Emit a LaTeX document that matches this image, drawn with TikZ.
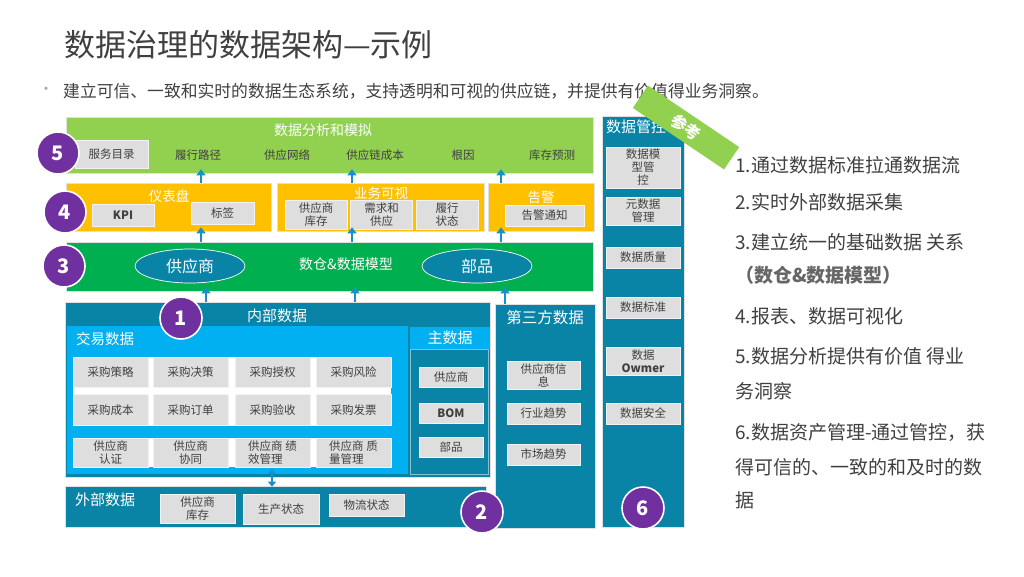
\documentclass[tikz,border=0pt]{standalone}
\usepackage{fontspec}
\setmainfont{Noto Sans CJK SC}
\usetikzlibrary{arrows.meta,shapes.geometric}
\definecolor{lgreen}{HTML}{92D050}
\definecolor{dgreen}{HTML}{00B050}
\definecolor{amber}{HTML}{FFC000}
\definecolor{petrol}{HTML}{0A84A6}
\definecolor{sky}{HTML}{00B0F0}
\definecolor{boxgray}{HTML}{DEDEDE}
\definecolor{ink}{HTML}{404040}
\definecolor{purp}{HTML}{7030A0}
\definecolor{arrowblue}{HTML}{1B8FC9}
\tikzset{sz/.style 2 args={minimum width=#1pt,minimum height=#2pt}}

\begin{document}
\begin{tikzpicture}[x=1pt,y=-1pt,
every node/.style={inner sep=0,text=ink,font=\fontsize{11.5}{13}\selectfont,align=center},
lay/.style={draw=black!12,line width=.6pt},
gb/.style={fill=boxgray,draw=black!5,line width=.5pt},
hd/.style={text=white,font=\fontsize{15}{18}\selectfont},
num/.style={circle,fill=purp,draw=white,line width=1.6pt,minimum size=42pt,text=white,font=\fontsize{20}{20}\selectfont\bfseries},
ov/.style={ellipse,fill=petrol,draw=white,line width=.7pt,minimum width=110pt,minimum height=34pt,text=white,font=\fontsize{16}{18}\selectfont},
a/.style={arrows={-Triangle[length=6pt,width=9pt]},draw=arrowblue,line width=2.4pt,shorten >=-4pt},
b/.style={arrows={Triangle[length=5pt,width=8pt]-Triangle[length=5pt,width=8pt]},draw=arrowblue,line width=2pt,shorten <=-5pt,shorten >=-1pt},
li/.style={anchor=west,font=\fontsize{19}{22}\selectfont,align=left}]
\useasboundingbox (0,0) rectangle (1024,576);
\node[anchor=west,font=\fontsize{31}{34}\selectfont] (ttl) at (64,45) {数据治理的数据架构—示例};
\node[text=black!35,font=\fontsize{15}{15}\selectfont] (dot) at (46,91) {•};
\node[anchor=west,font=\fontsize{16.8}{20}\selectfont] (sub) at (63,91) {建立可信、一致和实时的数据生态系统，支持透明和可视的供应链，并提供有价值得业务洞察。};

\node[lay,fill=lgreen,sz={527}{56}] (l5) at (329.5,145) {};
\node[hd,font=\fontsize{14}{16}\selectfont] (l5t) at (323,130) {数据分析和模拟};
\node[gb,sz={73}{28}] (s1) at (111.5,154) {服务目录};
\node (s2) at (198,155) {履行路径};\node (s3) at (287,155) {供应网络};\node (s4) at (375,155) {供应链成本};
\node (s5) at (463,155) {根因};\node (s6) at (552,155) {库存预测};

\node[lay,fill=amber,sz={205}{48}] (d) at (168.5,207) {};
\node[hd,font=\fontsize{13.5}{16}\selectfont] (dt) at (169,196) {仪表盘};
\node[gb,sz={62}{22},font=\fontsize{11.5}{13}\selectfont\bfseries] (kpi) at (123,215) {KPI};
\node[gb,sz={63}{22}] (tag) at (222.5,213) {标签};
\node[lay,fill=amber,sz={207}{48}] (v) at (380.5,207) {};
\node[hd,font=\fontsize{13.5}{16}\selectfont] (vt) at (381,193) {业务可视};
\node[gb,sz={62}{29}] (v1) at (316,214.5) {供应商\\库存};\node[gb,sz={62}{29}] (v2) at (381.5,214.5) {需求和\\供应};\node[gb,sz={62}{29}] (v3) at (447,214.5) {履行\\状态};
\node[lay,fill=amber,sz={106}{48}] (w) at (541,207) {};
\node[hd,font=\fontsize{13.5}{16}\selectfont] (wt) at (541,197) {告警};
\node[gb,sz={79}{21}] (w1) at (544.5,215.5) {告警通知};

\node[lay,fill=dgreen,sz={527}{49}] (l3) at (329.5,266.5) {};
\node[hd,font=\fontsize{14}{16}\selectfont] (l3t) at (346,264) {数仓\&数据模型};
\node[ov] (e1) at (190,266) {供应商};\node[ov] (e2) at (477,266) {部品};

\node[lay,fill=petrol,sz={425}{175}] (n) at (277.5,389.5) {};
\node[hd] (nt) at (277,316) {内部数据};
\node[fill=sky,sz={341}{148}] (j) at (237.5,400) {};
\node[hd,anchor=west,font=\fontsize{14.5}{17}\selectfont] (jt) at (76,339) {交易数据};
\fill[white] (73,357) rectangle (391,426);\fill[white] (73,438) rectangle (391,467);
\node[gb,sz={75}{30}] (p1) at (110.5,372) {采购策略};\node[gb,sz={75}{30}] (p2) at (190.5,372) {采购决策};
\node[gb,sz={75}{30}] (p3) at (272.5,372) {采购授权};\node[gb,sz={75}{30}] (p4) at (353.5,372) {采购风险};
\node[gb,sz={75}{31}] (p5) at (110.5,410) {采购成本};\node[gb,sz={75}{31}] (p6) at (190.5,410) {采购订单};
\node[gb,sz={75}{31}] (p7) at (272.5,410) {采购验收};\node[gb,sz={75}{31}] (p8) at (353.5,410) {采购发票};
\node[gb,sz={75}{29}] (p9) at (110.5,452.5) {供应商\\认证};\node[gb,sz={75}{29}] (p10) at (190.5,452.5) {供应商\\协同};
\node[gb,sz={75}{29},align=left] (p11) at (272.5,452.5) {供应商 绩\\效管理};\node[gb,sz={75}{29},align=left] (p12) at (353.5,452.5) {供应商 质\\量管理};
\node[fill=petrol,draw=petrol!50!white,line width=.8pt,sz={78}{125}] (mb) at (449,411.5) {};
\node[fill=sky,sz={80}{22},hd] (mh) at (450,338) {主数据};
\node[gb,sz={64}{20}] (m1) at (451,377) {供应商};\node[gb,sz={64}{20}] (m2) at (451,413) {\bfseries BOM};\node[gb,sz={64}{20}] (m3) at (451,447) {部品};

\node[lay,fill=petrol,sz={421}{41}] (x) at (275.5,506.5) {};
\node[hd,anchor=west] (xt) at (75,500) {外部数据};
\node[gb,sz={75}{29}] (x1) at (197.5,508.5) {供应商\\库存};\node[gb,sz={76}{30}] (x2) at (281,509) {生产状态};\node[gb,sz={75}{22}] (x3) at (366.5,505) {物流状态};

\node[lay,fill=petrol,sz={100}{224}] (t) at (545,416) {};
\node[hd,font=\fontsize{15.5}{18}\selectfont] (tt) at (545,318) {第三方数据};
\node[gb,sz={73}{28}] (t1) at (543.5,375) {供应商信\\息};\node[gb,sz={73}{21}] (t2) at (543.5,413.5) {行业趋势};\node[gb,sz={73}{21}] (t3) at (543.5,454.5) {市场趋势};

\node[lay,fill=petrol,sz={82}{411}] (g) at (643,321.5) {};
\node[hd,anchor=west] (gt) at (606,127) {数据管控};
\node[gb,sz={74}{41}] (g1) at (643,167.5) {数据模\\型管\\控};\node[gb,sz={74}{28}] (g2) at (643,211) {元数据\\管理};
\node[gb,sz={74}{21}] (g3) at (643,257.5) {数据质量};\node[gb,sz={74}{21}] (g4) at (643,307.5) {数据标准};
\node[gb,sz={74}{28}] (g5) at (643,361) {数据\\\textbf{Owmer}};\node[gb,sz={74}{21}] (g6) at (643,413.5) {数据安全};

\coordinate (k1) at (201,0);\coordinate (k2) at (352,0);\coordinate (k3) at (501,0);
\coordinate (q1) at (206,0);\coordinate (q2) at (355,0);\coordinate (q3) at (505,0);\coordinate (q4) at (272,0);
\draw[a] (d.north -| k1)--(l5.south -| k1);\draw[a] (v.north -| k2)--(l5.south -| k2);\draw[a] (w.north -| k3)--(l5.south -| k3);
\draw[a] (l3.north -| k1)--(d.south -| k1);\draw[a] (l3.north -| k2)--(v.south -| k2);\draw[a] (l3.north -| k3)--(w.south -| k3);
\draw[a] (n.north -| q1)--(l3.south -| q1);\draw[a] (n.north -| q2)--(l3.south -| q2);\draw[a] (t.north -| q3)--(l3.south -| q3);
\draw[b] (j.south -| q4)--(x.north -| q4);

\node[num] (c1) at (181,318) {1};\node[num] (c2) at (482,512) {2};\node[num] (c3) at (64,266) {3};
\node[num] (c4) at (65,212) {4};\node[num] (c5) at (58,153) {5};\node[num] (c6) at (643,508) {6};

\node[li] (r1) at (735,165) {1.通过数据标准拉通数据流};
\node[li] (r2) at (735,202) {2.实时外部数据采集};
\node[li] (r3) at (735,242) {3.建立统一的基础数据 关系};
\node[li,text=black!60,font=\fontsize{19}{22}\selectfont\bfseries] (r4) at (735,275) {（数仓\&数据模型）};
\node[li] (r5) at (735,316) {4.报表、数据可视化};
\node[li] (r6) at (735,356) {5.数据分析提供有价值 得业};
\node[li] (r7) at (735,391) {务洞察};
\node[li] (r8) at (735,432) {6.数据资产管理-通过管控，获};
\node[li] (r9) at (735,467) {得可信的、一致的和及时的数};
\node[li] (r10) at (735,500) {据};

\node[fill=lgreen,rotate=-34,sz={110}{27},text=white,font=\fontsize{16}{16}\selectfont\bfseries] (ref) at (686,127.5) {参考};
\end{tikzpicture}
\end{document}
